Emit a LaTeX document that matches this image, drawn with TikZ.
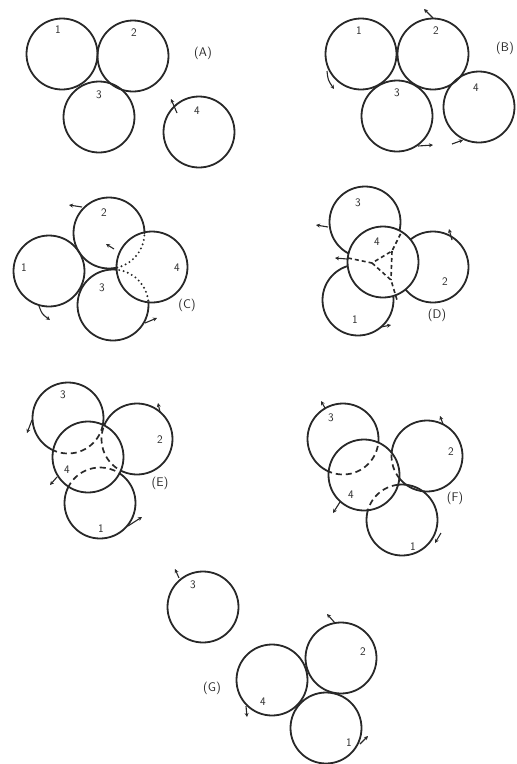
\documentclass[tikz,border=0pt]{standalone}
\usetikzlibrary{arrows.meta}
\definecolor{ink}{RGB}{40,40,40}
\tikzset{
  ring/.style={draw=ink, line width=1.8pt},
  hid/.style={draw=ink, line width=1.7pt, dash pattern=on 6pt off 4pt},
  shorthid/.style={draw=ink, line width=1.6pt, dash pattern=on 4pt off 3pt},
  dots/.style={draw=ink, line width=2.2pt, dash pattern=on 0pt off 4.5pt, line cap=round},
  rot/.style={draw=ink, line width=1.1pt, -{Stealth[length=4pt,width=4pt]}},
  lab/.style={font=\sffamily\fontsize{11.5}{13}\selectfont, text=ink, inner sep=0pt},
  tag/.style={font=\sffamily\fontsize{12.5}{14}\selectfont, text=ink, inner sep=0pt},
  rad/.style={radius=35.5pt}
}
\begin{document}
\begin{tikzpicture}[x=1pt,y=-1pt]
\useasboundingbox (0,0) rectangle (517,764);
\fill[white] (0,0) rectangle (517,764);

% ---------- (A) ----------
\coordinate (A1) at (62,54);
\coordinate (A2) at (133,56);
\coordinate (A3) at (99,117);
\coordinate (A4) at (199,132);
\foreach \c in {A1,A2,A3,A4} \draw[ring] (\c) circle[rad];
\node[lab] (la1) at (58,30) {1};
\node[lab] (la2) at (134,33) {2};
\node[lab] (la3) at (99,95) {3};
\node[lab] (la4) at (197,111) {4};
\node[tag] (tA) at (203,53) {(A)};
\draw[rot] (177,113) -- (171,99);

% ---------- (B) ----------
\coordinate (B1) at (361,54);
\coordinate (B2) at (433,54);
\coordinate (B3) at (397,116);
\coordinate (B4) at (479,107);
\foreach \c in {B1,B2,B3,B4} \draw[ring] (\c) circle[rad];
\node[lab] (lb1) at (359,31) {1};
\node[lab] (lb2) at (436,31) {2};
\node[lab] (lb3) at (397,93) {3};
\node[lab] (lb4) at (476,88) {4};
\node[tag, anchor=west] (tB) at (496,48) {(B)};
\draw[rot] (433,18) -- (424,9);
\draw[rot] (327,71) .. controls (328,80) .. (334,89);
\draw[rot] (418,146) -- (433,145);
\draw[rot] (452,144) -- (463,140);

% ---------- (C) ----------
\coordinate (C1) at (49,271);
\coordinate (C2) at (109,233);
\coordinate (C3) at (113,305);
\coordinate (C4) at (152,267);
\foreach \c in {C1,C2,C3} \draw[ring] (\c) circle[rad];
\fill[white] (C4) circle[rad];
\begin{scope}
  \clip (C4) circle[rad];
  \draw[dots] (C2) circle[rad];
  \draw[dots] (C3) circle[rad];
\end{scope}
\draw[ring] (C4) circle[rad];
\node[lab] (lc1) at (24,268) {1};
\node[lab] (lc2) at (104,213) {2};
\node[lab] (lc3) at (102,288) {3};
\node[lab] (lc4) at (177,268) {4};
\node[tag] (tC) at (187,305) {(C)};
\draw[rot] (82,207) -- (69,205);
\draw[rot] (114,249) -- (106,244);
\draw[rot] (39,306) .. controls (42,314) .. (50,320);
\draw[rot] (145,323) -- (157,318);

% ---------- (D) ----------
\coordinate (D1) at (358,300);
\coordinate (D2) at (433,267);
\coordinate (D3) at (365,222);
\coordinate (D4) at (383,262);
\coordinate (Dp) at (372,263);
\coordinate (Dq) at (392,251);
\coordinate (Ds) at (391,280);
\foreach \c in {D1,D2,D3} \draw[ring] (\c) circle[rad];
\fill[white] (D4) circle[rad];
\draw[shorthid] (348,258) -- (Dp) -- (Dq) -- (401,233);
\draw[shorthid] (Dp) -- (Ds) -- (397,300);
\draw[shorthid] (Dq) -- (Ds);
\draw[ring] (D4) circle[rad];
\node[lab] (ld1) at (355,320) {1};
\node[lab] (ld2) at (445,282) {2};
\node[lab] (ld3) at (358,203) {3};
\node[lab] (ld4) at (377,242) {4};
\node[tag] (tD) at (437,315) {(D)};
\draw[rot] (328,227) -- (316,225);
\draw[rot] (347,259) -- (335,258);
\draw[rot] (452,240) -- (449,229);
\draw[rot] (381,327) -- (391,325);

% ---------- (E) ----------
\coordinate (E1) at (100,503);
\coordinate (E2) at (137,439);
\coordinate (E3) at (68,418);
\coordinate (E4) at (88,457);
\foreach \c in {E1,E2,E3} \draw[ring] (\c) circle[rad];
\fill[white] (E4) circle[rad];
\begin{scope}
  \clip (E4) circle[rad];
  \draw[hid] (E1) circle[rad];
  \draw[hid] (E2) circle[rad];
  \draw[hid] (E3) circle[rad];
\end{scope}
\draw[ring] (E4) circle[rad];
\node[lab] (le1) at (101,529) {1};
\node[lab] (le2) at (160,440) {2};
\node[lab] (le3) at (63,395) {3};
\node[lab] (le4) at (67,470) {4};
\node[tag] (tE) at (160,483) {(E)};
\draw[rot] (160,412) -- (158,403);
\draw[rot] (32,420) -- (27,433);
\draw[rot] (57,477) -- (50,485);
\draw[rot] (128,526) -- (142,517);

% ---------- (F) ----------
\coordinate (F1) at (402,520);
\coordinate (F2) at (427,456);
\coordinate (F3) at (343,439);
\coordinate (F4) at (364,475);
\foreach \c in {F1,F2,F3} \draw[ring] (\c) circle[rad];
\fill[white] (F4) circle[rad];
\begin{scope}
  \clip (F4) circle[rad];
  \draw[hid] (F1) circle[rad];
  \draw[hid] (F2) circle[rad];
  \draw[hid] (F3) circle[rad];
\end{scope}
\draw[ring] (F4) circle[rad];
\node[lab] (lf1) at (413,547) {1};
\node[lab] (lf2) at (451,452) {2};
\node[lab] (lf3) at (331,418) {3};
\node[lab] (lf4) at (351,495) {4};
\node[tag] (tF) at (455,498) {(F)};
\draw[rot] (325,408) -- (321,401);
\draw[rot] (443,424) -- (440,416);
\draw[rot] (340,502) -- (333,513);
\draw[rot] (441,533) -- (435,543);

% ---------- (G) ----------
\coordinate (G1) at (326,728);
\coordinate (G2) at (341,658);
\coordinate (G3) at (203,607);
\coordinate (G4) at (272,680);
\foreach \c in {G1,G2,G3,G4} \draw[ring] (\c) circle[rad];
\node[lab] (lg1) at (349,743) {1};
\node[lab] (lg2) at (363,652) {2};
\node[lab] (lg3) at (193,585) {3};
\node[lab] (lg4) at (263,702) {4};
\node[tag] (tG) at (212,688) {(G)};
\draw[rot] (179,578) -- (175,569);
\draw[rot] (335,623) -- (327,614);
\draw[rot] (246,706) -- (247,717);
\draw[rot] (360,744) -- (368,736);
\end{tikzpicture}
\end{document}
